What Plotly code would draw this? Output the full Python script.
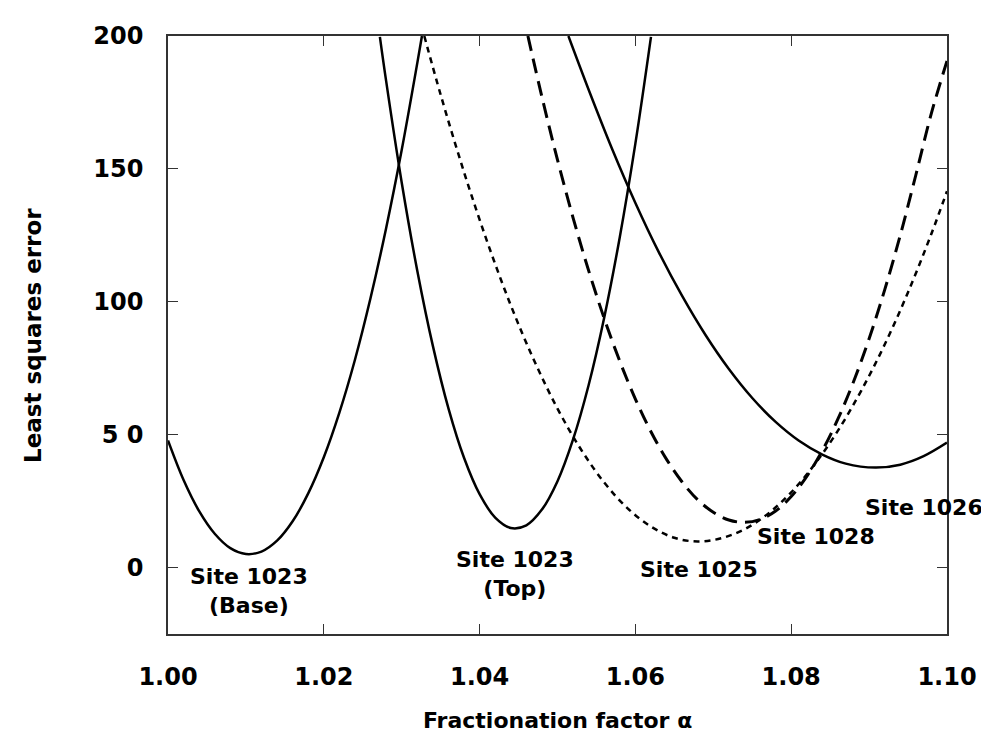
import plotly.graph_objects as go

# ---- data ----
base_x = [1.000, 1.002, 1.004, 1.006, 1.008, 1.010, 1.012, 1.014, 1.016, 1.018,
          1.020, 1.022, 1.024, 1.026, 1.028, 1.030, 1.032, 1.0326]
base_y = [47.8, 32.9, 21.2, 12.7, 7.3, 5.1, 6.0, 10.1, 17.4, 27.9,
          41.5, 58.3, 78.2, 101.4, 127.7, 157.1, 189.8, 200.0]

top_x = [1.0272, 1.028, 1.030, 1.032, 1.034, 1.036, 1.038, 1.040, 1.042, 1.044,
         1.046, 1.048, 1.050, 1.052, 1.054, 1.056, 1.058, 1.060, 1.062]
top_y = [199.7, 183.1, 144.9, 111.7, 83.4, 59.9, 41.3, 27.6, 18.8, 14.9,
         15.9, 21.8, 32.5, 48.2, 68.7, 94.1, 124.4, 159.6, 199.7]

s1025_x = [1.0329, 1.035, 1.038, 1.041, 1.044, 1.047, 1.050, 1.053, 1.056, 1.059,
           1.062, 1.065, 1.068, 1.071, 1.074, 1.077, 1.080, 1.083, 1.086, 1.089,
           1.092, 1.095, 1.098, 1.100]
s1025_y = [200.0, 177.9, 148.8, 122.4, 98.7, 77.9, 59.8, 44.5, 32.0, 22.3,
           15.4, 11.2, 9.8, 11.0, 14.4, 20.2, 28.3, 38.8, 51.5, 66.6,
           83.9, 103.6, 125.6, 141.6]

s1028_x = [1.0462, 1.048, 1.050, 1.052, 1.054, 1.056, 1.058, 1.060, 1.062, 1.064,
           1.066, 1.068, 1.070, 1.072, 1.074, 1.076, 1.078, 1.080, 1.082, 1.084,
           1.086, 1.088, 1.090, 1.092, 1.094, 1.096, 1.098, 1.100]
s1028_y = [200.0, 177.1, 153.4, 131.6, 111.7, 93.7, 77.6, 63.4, 51.1, 40.7,
           32.2, 25.5, 20.8, 17.9, 17.0, 18.1, 21.3, 26.7, 34.3, 44.0,
           55.9, 69.9, 86.1, 104.5, 125.0, 147.7, 171.0, 190.6]

s1026_x = [1.0514, 1.054, 1.057, 1.060, 1.063, 1.066, 1.069, 1.072, 1.075, 1.078,
           1.081, 1.084, 1.087, 1.0908, 1.094, 1.097, 1.100]
s1026_y = [200.0, 179.8, 157.6, 137.2, 118.7, 102.2, 87.5, 74.7, 63.8, 54.8,
           47.7, 42.5, 39.1, 37.6, 38.7, 41.9, 47.0]

label_text = ["Site 1023<br>(Base)", "Site 1023<br>(Top)", "Site 1025", "Site 1028", "Site 1026"]
label_x = [1.0104, 1.0445, 1.0681, 1.0832, 1.0970]
label_y = [-8.9, -2.4, -0.8, 11.7, 22.6]

x_ticks = [1.00, 1.02, 1.04, 1.06, 1.08, 1.10]
x_ticktext = ["1.00", "1.02", "1.04", "1.06", "1.08", "1.10"]
y_ticks = [0, 50, 100, 150, 200]
y_ticktext = ["0", "5 0", "100", "150", "200"]

FONT = "DejaVu Sans"

fig = go.Figure()
curves = [
    (base_x, base_y, "solid", 2.5),
    (top_x, top_y, "solid", 2.5),
    (s1025_x, s1025_y, "6px,5px", 2.5),
    (s1028_x, s1028_y, "15px,8px", 3),
    (s1026_x, s1026_y, "solid", 2.5),
]
for xs, ys, dash, w in curves:
    fig.add_trace(go.Scatter(x=xs, y=ys, mode="lines",
                             line=dict(color="black", width=w, dash=dash, shape="spline", smoothing=1.0),
                             showlegend=False, hoverinfo="skip"))

for t, x, y in zip(label_text, label_x, label_y):
    fig.add_annotation(x=x, y=y, text=t, showarrow=False, xref="x", yref="y",
                       font=dict(family=FONT, size=22, color="black", weight="bold"),
                       xanchor="center", yanchor="middle")

# axis titles
fig.add_annotation(x=0.5, y=-0.145, xref="paper", yref="paper", text="Fractionation factor α",
                   showarrow=False, xanchor="center", yanchor="middle",
                   font=dict(family=FONT, size=22, color="black", weight="bold"))
fig.add_annotation(x=-0.1733, y=0.5, xref="paper", yref="paper", text="Least squares error",
                   showarrow=False, xanchor="center", yanchor="middle", textangle=-90,
                   font=dict(family=FONT, size=23, color="black", weight="bold"))

axis_common = dict(showgrid=False, zeroline=False, showline=True, linecolor="#333", linewidth=1.5,
                   mirror="ticks", ticks="inside", ticklen=10, tickwidth=1, tickcolor="#333",
                   tickfont=dict(family=FONT, size=24, color="black", weight="bold"))

fig.update_xaxes(range=[1.0, 1.10], tickvals=x_ticks, ticktext=x_ticktext,
                 ticklabelstandoff=20, **axis_common)
fig.update_yaxes(range=[-25, 200], tickvals=y_ticks, ticktext=y_ticktext,
                 ticklabelstandoff=18, **axis_common)

fig.update_layout(width=989, height=734, margin=dict(l=160, r=50, t=28, b=108),
                  plot_bgcolor="white", paper_bgcolor="white")

fig.write_html("out.html")
